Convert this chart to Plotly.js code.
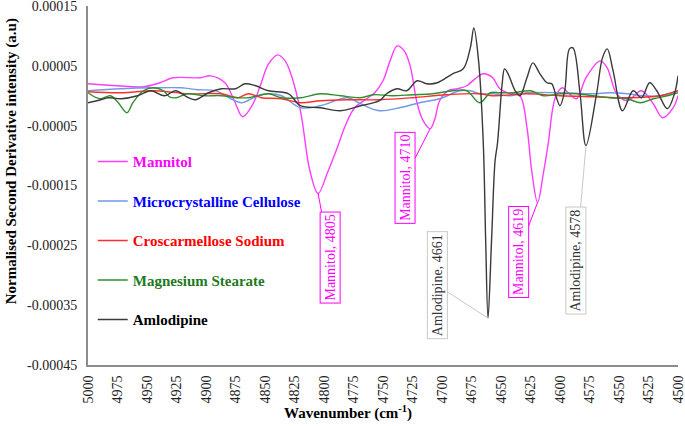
<!DOCTYPE html>
<html>
<head>
<meta charset="utf-8">
<script src="https://cdn.plot.ly/plotly-3.0.1.min.js"></script>
<style>html,body{margin:0;padding:0;background:#fff;}#chart{width:685px;height:426px;}</style>
</head>
<body>
<div id="chart"></div>
<script>
// Wavenumber (cm-1) and normalised second derivative intensity (a.u.)
const mannitolWn = [5000,4975,4953,4939,4928,4905,4896,4884,4876,4869,4861,4854,4847,4839,4833,4829,4820,4812,4805,4797,4789,4782,4774,4765,4757,4750,4744,4738,4732,4727,4721,4716,4710,4706,4702,4695,4687,4679,4672,4665,4657,4651,4642,4634,4628,4624,4619,4614,4610,4604,4598,4593,4586,4578,4566,4560,4552,4543,4531,4521,4513,4504,4500];
const mannitolVal = [2.0e-5,1.67e-5,1.5e-5,2.17e-5,3.0e-5,3.0e-5,3.33e-5,2.17e-5,-0.83e-5,-3.5e-5,-1.67e-5,1.67e-5,5.33e-5,6.83e-5,5.83e-5,4.17e-5,-2.5e-5,-12.5e-5,-16.33e-5,-12.83e-5,-8.83e-5,-5.0e-5,-2.0e-5,-0.67e-5,0.5e-5,2.5e-5,5.83e-5,8.33e-5,7.5e-5,5.0e-5,-1.33e-5,-4.17e-5,-5.5e-5,-3.83e-5,-0.83e-5,0.83e-5,1.17e-5,1.67e-5,2.83e-5,3.67e-5,3.0e-5,1.17e-5,0.33e-5,0,-5.33e-5,-12.5e-5,-17.83e-5,-12.83e-5,-8.0e-5,-0.33e-5,1.33e-5,0.5e-5,-0.5e-5,3.0e-5,5.83e-5,4.67e-5,0.33e-5,-0.83e-5,0.83e-5,-1.33e-5,-3.67e-5,-2.0e-5,0];

const mccWn = [5000,4972,4943,4921,4907,4892,4879,4870,4858,4847,4836,4820,4803,4780,4769,4753,4736,4719,4702,4685,4676,4668,4657,4642,4628,4600,4572,4558,4543,4530,4515,4500];
const mccVal = [0.83e-5,1.17e-5,1.33e-5,1.33e-5,1.0e-5,0.83e-5,-0.5e-5,-1.17e-5,-0.17e-5,0.33e-5,0,-2.0e-5,-1.67e-5,-0.33e-5,-1.33e-5,-2.5e-5,-2.0e-5,-1.17e-5,-0.5e-5,0.83e-5,0.83e-5,0.33e-5,0.33e-5,0,0.5e-5,0.5e-5,0.33e-5,0.5e-5,0.33e-5,0,0,0.83e-5];

const ccsWn = [5000,4972,4943,4915,4887,4873,4864,4853,4836,4820,4803,4780,4753,4725,4696,4668,4657,4628,4600,4572,4543,4515,4500];
const ccsVal = [0.67e-5,0.5e-5,0.83e-5,0.33e-5,0.33e-5,-0.33e-5,0.33e-5,-0.33e-5,-0.5e-5,-1.17e-5,-0.83e-5,-0.67e-5,-0.67e-5,-0.33e-5,0.17e-5,0.33e-5,0,0.33e-5,0,-0.17e-5,-0.33e-5,0,0.83e-5];

const mgsWn = [5000,4990,4981,4975,4967,4962,4953,4945,4936,4931,4925,4916,4901,4887,4873,4864,4847,4836,4820,4803,4786,4769,4758,4742,4725,4708,4691,4679,4668,4659,4651,4640,4625,4614,4600,4586,4572,4558,4543,4532,4521,4509,4500];
const mgsVal = [0.5e-5,-0.5e-5,0,-1.0e-5,-2.83e-5,-1.17e-5,0.83e-5,1.33e-5,0.83e-5,-0.17e-5,-0.33e-5,0.33e-5,0,0,-0.33e-5,-0.33e-5,0.33e-5,-0.33e-5,-0.33e-5,0.33e-5,0,-0.33e-5,0.17e-5,0,0.17e-5,0.33e-5,0.83e-5,0.83e-5,-1.17e-5,0.5e-5,0.5e-5,0.5e-5,0.83e-5,0,0.33e-5,0.33e-5,0,-0.33e-5,-0.5e-5,-1.17e-5,-0.5e-5,0,0.5e-5];

const amloWn = [5000,4989,4983,4972,4958,4947,4935,4926,4915,4909,4898,4887,4875,4867,4858,4847,4830,4820,4803,4786,4769,4753,4747,4738,4730,4721,4713,4704,4691,4682,4676,4673,4669,4665,4663,4661,4658,4655,4653,4649,4647,4644,4638,4634,4628,4623,4617,4611,4607,4603,4600,4596,4592,4589,4583,4578,4569,4564,4560,4555,4547,4538,4531,4524,4518,4509,4503,4500];
const amloVal = [-1.17e-5,-0.67e-5,-0.33e-5,-0.5e-5,0,0.83e-5,0,0.83e-5,-0.33e-5,-0.67e-5,0.5e-5,1.17e-5,1.17e-5,2.0e-5,1.67e-5,0.83e-5,0.33e-5,-1.67e-5,-2.0e-5,-2.5e-5,-1.67e-5,-0.83e-5,0.33e-5,1.17e-5,0.83e-5,2.5e-5,2.0e-5,2.17e-5,3.67e-5,4.5e-5,8.0e-5,11.33e-5,5.83e-5,-8.0e-5,-24.17e-5,-37.17e-5,-24.17e-5,-10.83e-5,-8.0e-5,2.0e-5,4.5e-5,3.67e-5,0.83e-5,0,3.0e-5,5.5e-5,3.67e-5,2.17e-5,2.0e-5,-0.33e-5,-1.67e-5,0.83e-5,7.83e-5,8.0e-5,0.33e-5,-8.33e-5,0.33e-5,6.33e-5,7.83e-5,4.17e-5,-2.5e-5,0.83e-5,-0.33e-5,2.17e-5,0.83e-5,-2.17e-5,0.33e-5,3.33e-5];

const seriesNames = ['Mannitol','Microcrystalline Cellulose','Croscarmellose Sodium','Magnesium Stearate','Amlodipine'];
const lineColors = ['#FF3DFF','#6E9AE6','#FF2E2E','#2F8F2F','#3A3A3A'];
const textColors = ['#FF00FF','#0000FF','#FF0000','#1E7A1E','#000000'];

const yTickVals = [0.00015,0.00005,-0.00005,-0.00015,-0.00025,-0.00035,-0.00045];
const yTickText = ['0.00015','0.00005','-0.00005','-0.00015','-0.00025','-0.00035','-0.00045'];
const xTickVals = [5000,4975,4950,4925,4900,4875,4850,4825,4800,4775,4750,4725,4700,4675,4650,4625,4600,4575,4550,4525,4500];
const xTickText = ['5000','4975','4950','4925','4900','4875','4850','4825','4800','4775','4750','4725','4700','4675','4650','4625','4600','4575','4550','4525','4500'];

// peak labels: [series index, wavenumber, label]
const peakLabels = [
  [0, 4805, 'Mannitol, 4805'],
  [0, 4710, 'Mannitol, 4710'],
  [4, 4661, 'Amlodipine, 4661'],
  [0, 4619, 'Mannitol, 4619'],
  [4, 4578, 'Amlodipine, 4578']
];
const labelOffsets = [[12,64],[-25,49],[-51,-33],[-19,50],[-10,115]];

const xs = [mannitolWn, mccWn, ccsWn, mgsWn, amloWn];
const ys = [mannitolVal, mccVal, ccsVal, mgsVal, amloVal];

const FONT = 'Liberation Serif';

const traces = seriesNames.map((n, i) => ({
  type: 'scatter', mode: 'lines',
  x: xs[i], y: ys[i],
  name: '<b><span style="color:' + textColors[i] + '">' + n + '</span></b>',
  legendgroup: 'g' + i,
  line: {color: lineColors[i], width: 1.4, shape: 'spline', smoothing: 1}
}));

const annotations = peakLabels.map((p, k) => {
  const si = p[0];
  const idx = xs[si].indexOf(p[1]);
  const isM = si === 0;
  return {
    x: p[1], y: ys[si][idx], xref: 'x', yref: 'y',
    text: p[2], textangle: -90,
    showarrow: true, arrowhead: 0, arrowwidth: 1,
    arrowcolor: isM ? '#FF00FF' : '#C8C8C8',
    ax: labelOffsets[k][0], ay: labelOffsets[k][1],
    bordercolor: isM ? '#FF00FF' : '#C8C8C8', borderwidth: 1, borderpad: 2,
    bgcolor: '#FFFFFF',
    font: {family: FONT, size: 14, color: isM ? '#FF00FF' : '#333333'}
  };
});

annotations.push({
  xref: 'paper', yref: 'paper', x: -0.129, y: 0.567, xanchor: 'center', yanchor: 'middle',
  text: '<b>Normalised Second Derivative intensity (a.u)</b>', textangle: -90, showarrow: false,
  font: {family: FONT, size: 15, color: '#000'}
});
annotations.push({
  xref: 'paper', yref: 'paper', x: 0.441, y: -0.133, xanchor: 'center', yanchor: 'middle',
  text: '<b>Wavenumber (cm<sup>-1</sup>)</b>', showarrow: false,
  font: {family: FONT, size: 15, color: '#000'}
});

const layout = {
  width: 685, height: 426,
  margin: {l: 88, r: 7, t: 6, b: 61},
  paper_bgcolor: '#fff', plot_bgcolor: '#fff',
  font: {family: FONT, size: 14, color: '#000'},
  showlegend: true,
  legend: {x: 0.008, y: 0.612, xanchor: 'left', yanchor: 'top', bgcolor: 'rgba(0,0,0,0)',
           font: {family: FONT, size: 15}, tracegroupgap: 17},
  xaxis: {range: [5000, 4500], tickmode: 'array', tickvals: xTickVals, ticktext: xTickText, tickangle: -90,
          showgrid: false, zeroline: false, ticklabeloverflow: 'allow',
          showline: true, linecolor: '#8C8C8C', linewidth: 2, ticks: '', ticklabelstandoff: 3,
          tickfont: {family: FONT, size: 14, color: '#222'}, automargin: false},
  yaxis: {range: [-0.00045, 0.00015], tickmode: 'array', tickvals: yTickVals, ticktext: yTickText,
          showgrid: false, zeroline: false, ticklabeloverflow: 'allow',
          showline: true, linecolor: '#8C8C8C', linewidth: 2, ticks: '', ticklabelstandoff: 6,
          tickfont: {family: FONT, size: 14, color: '#222'}, automargin: false},
  annotations: annotations
};

Plotly.newPlot('chart', traces, layout, {displayModeBar: false, staticPlot: true});
</script>
</body>
</html>
